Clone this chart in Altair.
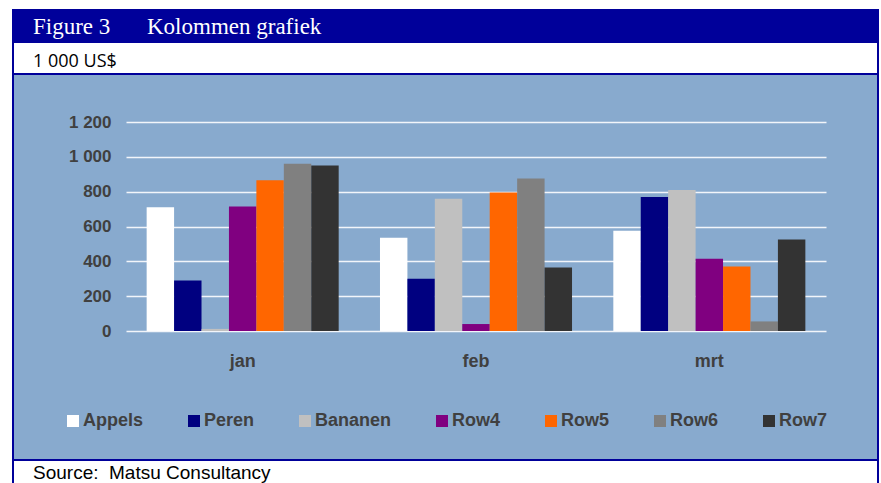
import altair as alt
import pandas as pd

# ---- data ----
months = ["jan", "feb", "mrt"]
series = ["Appels", "Peren", "Bananen", "Row4", "Row5", "Row6", "Row7"]
appels = [710, 535, 575]
peren = [290, 300, 770]
bananen = [12, 760, 810]
row4 = [715, 40, 415]
row5 = [865, 795, 370]
row6 = [960, 875, 55]
row7 = [950, 365, 525]
y_ticks = [0, 200, 400, 600, 800, 1000, 1200]
colors = ["#FFFFFF", "#000080", "#C0C0C0", "#800080", "#FF6600", "#808080", "#333333"]

values = [appels, peren, bananen, row4, row5, row6, row7]
rows = []
for s, vals in zip(series, values):
    for m, v in zip(months, vals):
        rows.append({"month": m, "series": s, "value": v})
df = pd.DataFrame(rows)

# ---- layout ----
OX, OY = 126, 122          # plot origin in page pixels
W, H = 700, 209            # plot area
BG = "#88AACE"
DARK = "#00009A"

one = pd.DataFrame({"d": [0]})


def rect(x1, x2, y1, y2, color):
    return alt.Chart(one).mark_rect(color=color).encode(
        x=alt.value(x1 - OX), x2=alt.value(x2 - OX),
        y=alt.value(y1 - OY), y2=alt.value(y2 - OY))


def text(s, x, y, font, size, color, weight="normal"):
    return alt.Chart(one).mark_text(
        font=font, fontSize=size, color=color, fontWeight=weight,
        align="left", baseline="alphabetic").encode(
        x=alt.value(x - OX), y=alt.value(y - OY), text=alt.value(s))


deco = [
    rect(0, 881, 0, 9, "white"),
    rect(0, 12, 0, 483, "white"),
    rect(879, 881, 0, 483, "white"),
    rect(12, 879, 43, 73, "white"),
    rect(12, 879, 460, 483, "white"),
    rect(12, 879, 9, 43, DARK),
    rect(12, 879, 73, 75, DARK),
    rect(12, 879, 459, 461, DARK),
    rect(12, 14, 9, 483, DARK),
    rect(877, 879, 9, 483, DARK),
]

bars = alt.Chart(df).mark_bar().encode(
    x=alt.X("month:N", sort=months,
            scale=alt.Scale(paddingInner=0.177, paddingOuter=0.0885),
            axis=alt.Axis(title=None, labelAngle=0, domain=False, ticks=False,
                          labelPadding=21, labelFont="Liberation Sans",
                          labelFontWeight="bold", labelFontSize=18,
                          labelColor="#404040", grid=False)),
    xOffset=alt.XOffset("series:N", sort=series,
                        scale=alt.Scale(paddingInner=0, paddingOuter=0)),
    y=alt.Y("value:Q", scale=alt.Scale(domain=[0, 1200], nice=False),
            axis=alt.Axis(title=None, values=y_ticks,
                          labelExpr="replace(format(datum.value, ','), ',', ' ')",
                          domain=False, ticks=False, labelPadding=15,
                          labelFont="Liberation Sans", labelFontWeight="bold",
                          labelFontSize=17, labelColor="#404040",
                          gridColor="#F2F5FA", gridWidth=1.5)),
    color=alt.Color("series:N", sort=series,
                    scale=alt.Scale(domain=series, range=colors),
                    legend=alt.Legend(title=None, orient="none",
                                      legendX=64 - OX, legendY=412 - OY,
                                      direction="horizontal", columns=7,
                                      columnPadding=41, gridAlign="none",
                                      symbolType="square", symbolSize=144,
                                      symbolStrokeWidth=0, labelOffset=1,
                                      labelFont="Liberation Sans",
                                      labelFontWeight="bold", labelFontSize=18,
                                      labelColor="#404040", padding=0)),
)

texts = [
    text("Figure 3", 33, 34, "Liberation Serif", 23, "white"),
    text("Kolommen grafiek", 147, 34, "Liberation Serif", 23, "white"),
    text("1 000 US$", 33, 67, "Open Sans", 18, "black"),
    text("Source:\u00a0 Matsu Consultancy", 33, 479, "Liberation Sans", 19, "black"),
]

chart = alt.layer(*deco, bars, *texts).properties(
    width=W, height=H,
    autosize=alt.AutoSizeParams(type="none"),
    padding={"left": OX, "top": OY, "right": 881 - OX - W, "bottom": 483 - OY - H},
    background=BG,
).configure_view(stroke=None)

chart.save("out.html", embed_options={"renderer": "svg", "actions": False})
